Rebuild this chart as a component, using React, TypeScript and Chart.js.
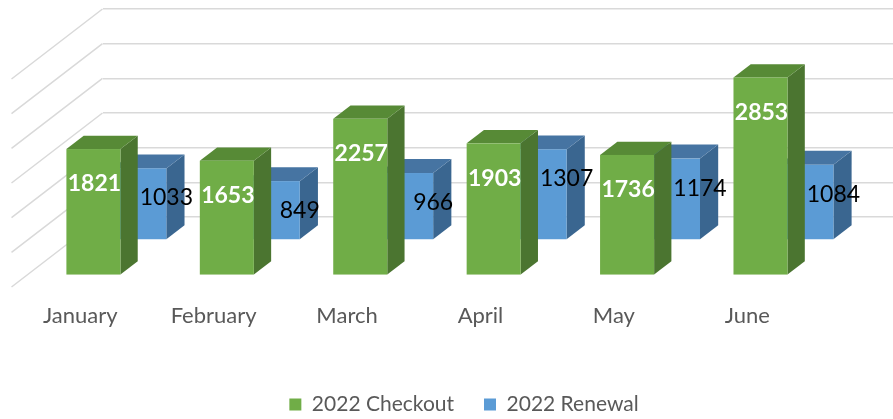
import React, { useEffect, useRef } from "react";
import { Chart, registerables } from "chart.js";

Chart.register(...registerables);

const months = ["January", "February", "March", "April", "May", "June"];
const checkout = [1821, 1653, 2257, 1903, 1736, 2853];
const renewal = [1033, 849, 966, 1307, 1174, 1084];
const seriesNames = ["2022 Checkout", "2022 Renewal"];
const yMin = 0;
const yMax = 3000;
const yStep = 500;

const FONT = "Lato, 'Open Sans', sans-serif";
const K = 1.3; // horizontal shift per px of depth (oblique projection)
const WALL = 70; // total depth of the floor in px (vertical component)
// [front, back] depth (vertical px toward the viewer from the back wall) per dataset
const DEPTH = [
  [58.3, 45],
  [23, 9],
];
const FACE = [
  { front: "#70AD47", top: "#578A36", side: "#4B7530" },
  { front: "#5B9BD5", top: "#4674A2", side: "#3A6690" },
];

const threeD = {
  id: "threeD",
  beforeDatasetsDraw(chart: any) {
    const ctx = chart.ctx as CanvasRenderingContext2D;
    const { left } = chart.chartArea;
    const ys = chart.scales.y;
    ctx.save();
    ctx.strokeStyle = "#D9D9D9";
    ctx.lineWidth = 1.5;
    ys.ticks.forEach((t: any) => {
      const py = ys.getPixelForValue(t.value);
      ctx.beginPath();
      ctx.moveTo(left, py);
      ctx.lineTo(left - WALL * K, py + WALL);
      ctx.stroke();
    });
    const poly = (pts: number[][], color: string) => {
      ctx.beginPath();
      ctx.moveTo(pts[0][0], pts[0][1]);
      for (let i = 1; i < pts.length; i++) ctx.lineTo(pts[i][0], pts[i][1]);
      ctx.closePath();
      ctx.fillStyle = color;
      ctx.fill();
    };
    for (const di of [1, 0]) {
      const meta = chart.getDatasetMeta(di);
      const [dF, dB] = DEPTH[di];
      const c = FACE[di];
      meta.data.forEach((bar: any) => {
        const { x, y, base, width } = bar.getProps(["x", "y", "base", "width"], true);
        const xl = x - width / 2;
        const xr = x + width / 2;
        const fx = -K * dF;
        const bx = -K * dB;
        poly(
          [
            [xr + fx, y + dF],
            [xr + bx, y + dB],
            [xr + bx, base + dB],
            [xr + fx, base + dF],
          ],
          c.side
        );
        poly(
          [
            [xl + fx, y + dF],
            [xr + fx, y + dF],
            [xr + bx, y + dB],
            [xl + bx, y + dB],
          ],
          c.top
        );
        ctx.fillStyle = c.front;
        ctx.fillRect(xl + fx, y + dF, width, base - y);
      });
    }
    ctx.restore();
    return false;
  },
  afterDraw(chart: any) {
    const ctx = chart.ctx as CanvasRenderingContext2D;
    ctx.save();
    ctx.textAlign = "center";
    ctx.textBaseline = "middle";
    for (const di of [1, 0]) {
      const meta = chart.getDatasetMeta(di);
      const values = chart.data.datasets[di].data as number[];
      const [dF] = DEPTH[di];
      meta.data.forEach((bar: any, i: number) => {
        const { x, y } = bar.getProps(["x", "y"], true);
        const fx = -K * dF;
        if (di === 0) {
          ctx.font = `bold 23px ${FONT}`;
          ctx.fillStyle = "#FFFFFF";
          ctx.fillText(String(values[i]), x + fx + 1, y + dF + 35);
        } else {
          ctx.font = `23px ${FONT}`;
          ctx.fillStyle = "#000000";
          ctx.fillText(String(values[i]), x + fx + 27, y + dF + 29.5);
        }
      });
    }
    ctx.restore();
  },
};

export default function App() {
  const ref = useRef<HTMLCanvasElement | null>(null);
  useEffect(() => {
    if (!ref.current) return;
    const chart = new Chart(ref.current, {
      type: "bar",
      data: {
        labels: months,
        datasets: [
          {
            label: seriesNames[0],
            data: checkout,
            backgroundColor: FACE[0].front,
            borderWidth: 0,
            grouped: false,
            barPercentage: 0.405,
            categoryPercentage: 1,
          },
          {
            label: seriesNames[1],
            data: renewal,
            backgroundColor: FACE[1].front,
            borderWidth: 0,
            grouped: false,
            barPercentage: 0.405,
            categoryPercentage: 1,
          },
        ],
      },
      options: {
        animation: false,
        responsive: false,
        layout: { padding: { left: 25, top: 9, right: 0, bottom: 0 } },
        plugins: {
          tooltip: { enabled: false },
          legend: {
            position: "bottom",
            labels: {
              font: { family: FONT, size: 21 },
              color: "#595959",
              boxWidth: 12,
              boxHeight: 12,
              padding: 30,
            },
          },
        },
        scales: {
          x: {
            grid: { display: false, drawTicks: true, tickLength: 86 },
            border: { display: false },
            ticks: {
              font: { family: FONT, size: 22 },
              color: "#595959",
              labelOffset: -89,
              padding: 0,
              maxRotation: 0,
              autoSkip: false,
            },
            afterFit: (s: any) => {
              s.height = 147;
            },
          },
          y: {
            min: yMin,
            max: yMax,
            grid: { color: "#D9D9D9", lineWidth: 1.5, drawTicks: false },
            border: { display: false },
            ticks: { display: false, stepSize: yStep },
            afterFit: (s: any) => {
              s.width = 77.5;
            },
          },
        },
      },
      plugins: [threeD],
    });
    return () => chart.destroy();
  }, []);
  return (
    <div
      style={{
        position: "absolute",
        left: 0,
        top: 0,
        width: 893,
        height: 419,
        overflow: "hidden",
        background: "#fff",
      }}
    >
      <canvas ref={ref} width={903} height={425} style={{ display: "block" }} />
    </div>
  );
}
